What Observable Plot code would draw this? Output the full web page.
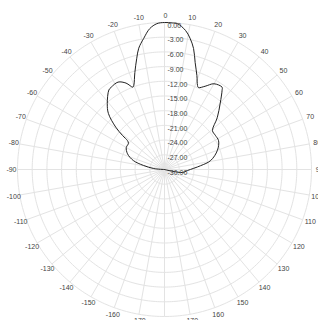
<!DOCTYPE html>
<html><head><meta charset="utf-8">
<style>body{margin:0;background:#fff}svg{display:block;overflow:visible}</style>
<script src="https://cdn.jsdelivr.net/npm/d3@7"></script>
<script src="https://cdn.jsdelivr.net/npm/@observablehq/plot@0.6"></script>
</head><body><div id="chart"></div>
<script>
// pattern: angle (deg, clockwise from top) and gain (dB)
const angles = [-180, -150, -120, -100, -92, -85, -79, -74, -67, -60, -54, -52, -51, -49, -45, -41, -35, -33, -28, -24, -21, -20, -17, -14, -12, -9, -6, -3, 0, 3, 5, 8.6, 11, 13.5, 16, 19, 21.5, 22.5, 26, 30, 35, 36, 40, 45.5, 51, 56, 62, 70, 79, 84, 92.5, 99.5, 105, 120, 150, 180];
const gains  = [-30, -30, -30, -30, -30, -27.8, -25.6, -23.4, -21.8, -21.0, -20.9, -20.4, -19.0, -16.8, -13.8, -12.2, -10.2, -10.0, -9.8, -10.7, -12.0, -11.7, -9.3, -6.6, -4.7, -2.9, -1.1, -0.2, 0, -0.05, -0.1, -1.3, -2.7, -4.6, -7.3, -9.7, -11.6, -11.9, -11.1, -9.8, -9.5, -10.0, -12.3, -14.9, -17.4, -17.5, -17.5, -18.5, -20.4, -22.6, -25.3, -26.3, -30, -30, -30, -30];
const angleTicks = [-170,-160,-150,-140,-130,-120,-110,-100,-90,-80,-70,-60,-50,-40,-30,-20,-10,0,10,20,30,40,50,60,70,80,90,100,110,120,130,140,150,160,170,180];
const ringTicks = [0,-3,-6,-9,-12,-15,-18,-21,-24,-27,-30];

const DBMIN = -30, DBMAX = 0;
const R0 = 30;                       // angular radius (deg) of the 0 dB ring
const rad = db => (Math.max(db, DBMIN) - DBMIN) / (DBMAX - DBMIN) * R0;
const lon = a => 180 - a;            // clockwise from top
const lat = db => 90 - rad(db);
const labelR = R0 * 1.048;

const data = angles.map((a, i) => ({a, g: gains[i]}));
const circle = r => d3.geoCircle().center([0, 90]).radius(r).precision(1)();

const plot = Plot.plot({
  width: 318,
  height: 320,
  marginLeft: 17, marginRight: 7, marginTop: 22, marginBottom: 4,
  style: {fontFamily: "'Liberation Sans', Arial, sans-serif", background: "#fff"},
  projection: {type: "azimuthal-equidistant", rotate: [0, -90], domain: circle(R0), inset: 0, clip: false},
  marks: [
    Plot.geo(ringTicks.filter(d => d > DBMIN), {geometry: d => circle(rad(d)), stroke: "#e3e3e3", strokeWidth: 1, fill: "none"}),
    Plot.link(angleTicks, {x1: d => lon(d), y1: lat(DBMAX), x2: d => lon(d), y2: 90, stroke: "#e3e3e3", strokeWidth: 1}),
    Plot.line(data, {x: d => lon(d.a), y: d => lat(d.g), curve: "catmull-rom", stroke: "#222", strokeWidth: 1}),
    Plot.text(angleTicks, {x: d => lon(d), y: 90 - labelR, text: d => String(d), fontSize: 7, fill: "#444", dx: 1}),
    Plot.text(ringTicks, {x: 180, y: d => lat(d), text: d => d.toFixed(2), fontSize: 7, fill: "#444", textAnchor: "start", dx: 3, dy: 3})
  ]
});
document.getElementById("chart").append(plot);
</script></body></html>
